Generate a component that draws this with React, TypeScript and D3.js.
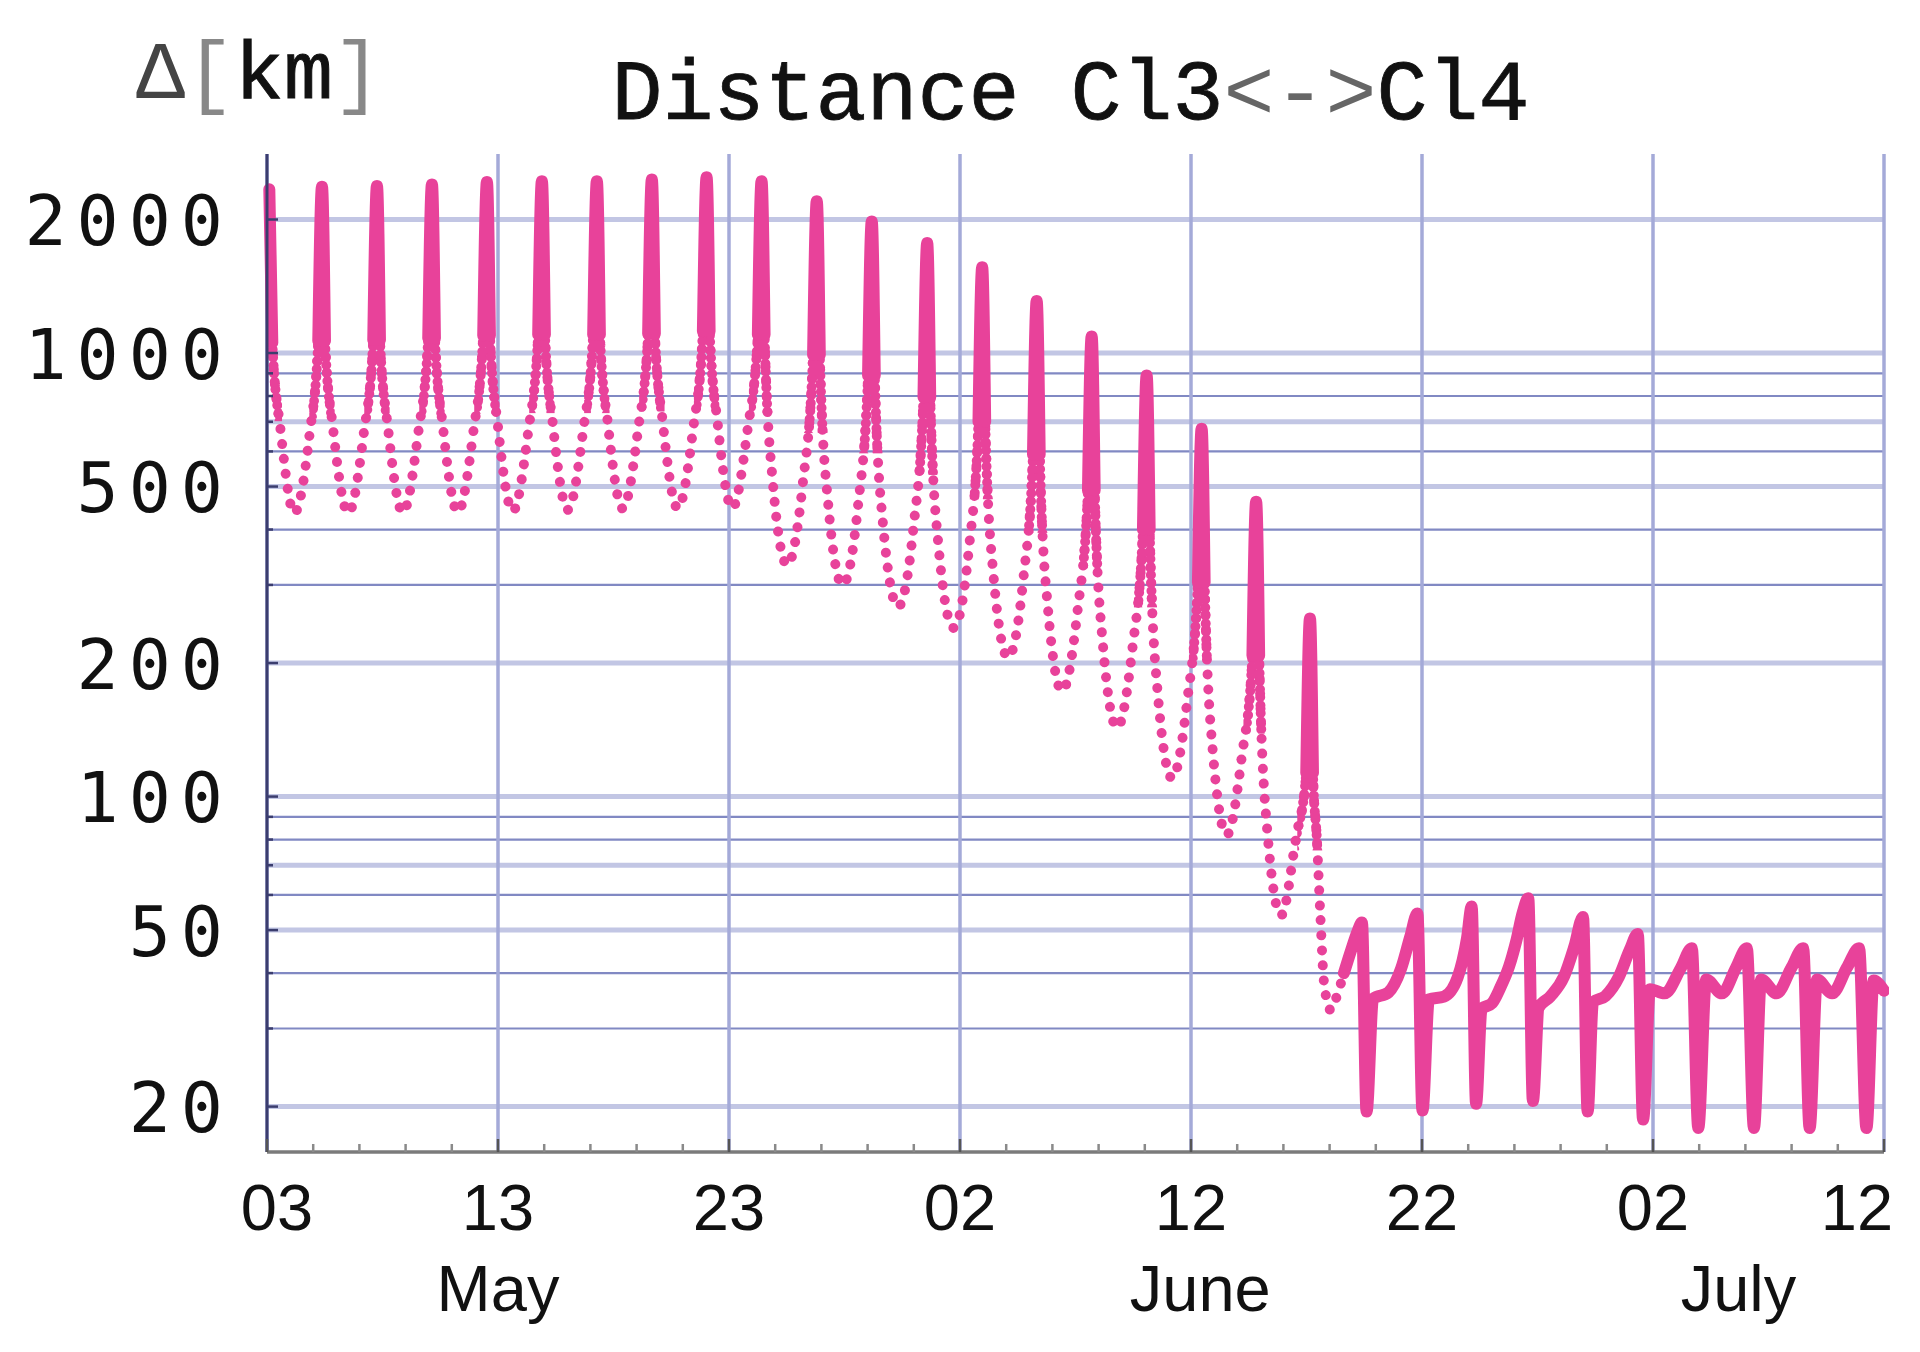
import React from "react";
import * as d3 from "d3";

const WIDTH = 1920;
const HEIGHT = 1352;
const PLOT = { left: 267, right: 1884, top: 154, bottom: 1152 };

const START = Date.UTC(2005, 4, 3); // 03 May
const DAY = 86400000;
const toDate = (d: number) => new Date(START + d * DAY);

// y axis (log, km)
const yDomain: [number, number] = [15.8, 2810];
const yTickValues = [20, 50, 100, 200, 500, 1000, 2000];
const gridHeavy = [20, 50, 70, 100, 200, 500, 700, 1000, 2000];
const gridLight = [30, 40, 60, 80, 90, 300, 400, 600, 800, 900];

// x axis, days after 03 May
const xMajorDays = [0, 10, 20, 30, 40, 50, 60, 70];
const monthNames = ["May", "June", "July"];
const monthLabelDays = [10, 40.4, 63.7];

// [day, km] — approach phase (sparse samples, drawn as dots)
const approach: [number, number][] = [
  [0.10, 2340], [0.23, 1055], [0.58, 676], [1.18, 436], [1.84, 654], [2.22, 1065],
  [2.38, 2370], [2.51, 1065], [2.86, 676], [3.52, 436], [4.18, 654], [4.60, 1070],
  [4.76, 2380], [4.89, 1070], [5.24, 677], [5.88, 437], [6.54, 656], [6.98, 1080],
  [7.14, 2400], [7.27, 1080], [7.62, 679], [8.26, 438], [8.92, 657], [9.36, 1095],
  [9.52, 2430], [9.65, 1095], [10.00, 682], [10.64, 440], [11.30, 660], [11.74, 1100],
  [11.90, 2440], [12.03, 1100], [12.38, 687], [13.02, 443], [13.68, 665], [14.12, 1100],
  [14.28, 2440], [14.41, 1100], [14.76, 691], [15.40, 446], [16.06, 669], [16.50, 1105],
  [16.66, 2460], [16.79, 1105], [17.14, 693], [17.78, 447], [18.44, 670], [18.87, 1120],
  [19.03, 2490], [19.16, 1120], [19.51, 693], [20.14, 447], [20.80, 670], [21.25, 1100],
  [21.41, 2440], [21.54, 1100], [21.89, 516], [22.52, 333], [23.18, 500], [23.64, 990],
  [23.80, 2200], [23.93, 990], [24.28, 465], [24.92, 300], [25.58, 450], [26.02, 890],
  [26.18, 1980], [26.31, 890], [26.66, 415], [27.32, 268], [27.98, 402], [28.42, 795],
  [28.58, 1770], [28.71, 795], [29.06, 372], [29.72, 240], [30.38, 360], [30.80, 700],
  [30.96, 1560], [31.09, 700], [31.44, 319], [32.08, 206], [32.74, 309], [33.16, 590],
  [33.32, 1310], [33.45, 590], [33.80, 268], [34.42, 173], [35.08, 260], [35.54, 490],
  [35.70, 1090], [35.83, 490], [36.18, 222], [36.80, 143], [37.46, 215], [37.92, 400],
  [38.08, 890], [38.21, 400], [38.56, 171], [39.18, 110], [39.84, 165], [40.30, 304],
  [40.46, 675], [40.59, 304], [40.94, 127], [41.55, 82], [42.20, 123], [42.66, 208],
  [42.82, 462], [42.95, 208], [43.30, 84], [43.90, 54], [44.55, 81], [44.99, 113],
  [45.15, 252], [45.28, 113], [45.45, 80], [45.60, 54], [45.76, 38], [46.05, 33],
  [46.35, 36], [46.62, 40],
];

// [day, km] — formation phase (dense samples, drawn solid)
const formation: [number, number][] = [
  [46.62, 40], [46.93, 45], [47.20, 49.5], [47.40, 52], [47.60, 19.5], [47.88, 35],
  [48.55, 36.2], [49.10, 41], [49.50, 48.5], [49.80, 54.5],
  [50.02, 19.6], [50.30, 34.9], [50.95, 35.4], [51.55, 39.2], [51.95, 48], [52.15, 56.5],
  [52.34, 20.3], [52.58, 33.2], [53.03, 34.2], [53.38, 37], [53.77, 41.4], [54.07, 47], [54.37, 55], [54.60, 59],
  [54.80, 20.6], [55.05, 33.4], [55.55, 35.4], [56.15, 39.3], [56.60, 46], [56.97, 53.5],
  [57.17, 19.5], [57.40, 34.4], [57.94, 35.5], [58.53, 39.3], [59.00, 45.2], [59.34, 49],
  [59.57, 18.7], [59.87, 36.8], [60.50, 36], [61.20, 41], [61.68, 45.5],
  [61.96, 17.9], [62.30, 38.7], [62.98, 36], [63.60, 41.2], [64.06, 45.5],
  [64.37, 17.9], [64.68, 38.7], [65.35, 36], [66.00, 41.2], [66.50, 45.5],
  [66.78, 17.9], [67.10, 38.7], [67.75, 36], [68.40, 41.2], [68.92, 45.5],
  [69.24, 17.9], [69.55, 38.5], [70.00, 36.5],
];

const PINK = "#e8429a";

export default function App() {
  const x = d3.scaleUtc().domain([toDate(0), toDate(70)]).range([PLOT.left, PLOT.right]);
  const y = d3.scaleLog().domain(yDomain).range([PLOT.bottom, PLOT.top]);
  const line = d3
    .line<[number, number]>()
    .x((d) => x(toDate(d[0])))
    .y((d) => y(d[1]))
    .curve(d3.curveMonotoneX);

  // near each peak the samples are packed tightly -> solid stroke
  const peakIdx = approach
    .map((_, i) => i)
    .filter(
      (i) =>
        i < approach.length - 1 &&
        approach[i][1] > approach[i + 1][1] &&
        (i === 0 || approach[i][1] > approach[i - 1][1])
    );
  const spikes = peakIdx.map((i) => approach.slice(Math.max(0, i - 1), i + 2));

  const fmt = d3.utcFormat("%d");
  const minorDays = d3.range(0, 71, 2);
  // first and last date labels are nudged inward, as in the original
  const labelShift = (i: number) => (i === 0 ? 10 : i === xMajorDays.length - 1 ? -27 : 0);

  return (
    <div>
      <style>{"body{margin:0}"}</style>
      <svg width={WIDTH} height={HEIGHT} style={{ display: "block", background: "#fff" }}>
        <defs>
          <clipPath id="plotClip">
            <rect x={PLOT.left - 5} y={0} width={PLOT.right - PLOT.left + 10} height={PLOT.bottom} />
          </clipPath>
          {/* band just below each solid spike where dots are still packed */}
          <mask id="denseBand" maskUnits="userSpaceOnUse" x={0} y={0} width={WIDTH} height={HEIGHT}>
            <rect x={0} y={0} width={WIDTH} height={HEIGHT} fill="black" />
            {peakIdx.map((i) => {
              const [t, p] = approach[i];
              const y0 = y(p * 0.45);
              const y1 = y(p * 0.3);
              return (
                <rect
                  key={"b" + i}
                  x={x(toDate(t - 0.55))}
                  y={y0}
                  width={x(toDate(t + 0.55)) - x(toDate(t - 0.55))}
                  height={y1 - y0}
                  fill="white"
                />
              );
            })}
          </mask>
        </defs>

        {/* horizontal grid */}
        {gridHeavy.map((v) => (
          <line key={"h" + v} x1={PLOT.left} x2={PLOT.right} y1={y(v)} y2={y(v)} stroke="#c2c6e4" strokeWidth={5} />
        ))}
        {gridLight.map((v) => (
          <line key={"l" + v} x1={PLOT.left} x2={PLOT.right} y1={y(v)} y2={y(v)} stroke="#8189c3" strokeWidth={2.2} />
        ))}

        {/* vertical grid */}
        {xMajorDays.map((d) => (
          <line key={"v" + d} x1={x(toDate(d))} x2={x(toDate(d))} y1={PLOT.top} y2={PLOT.bottom} stroke="#a4aad8" strokeWidth={3.5} />
        ))}

        {/* data */}
        <g clipPath="url(#plotClip)" fill="none" stroke={PINK} strokeLinecap="round" strokeLinejoin="round">
          <path d={line(approach) ?? ""} strokeWidth={10} strokeDasharray="0.01 15" />
          <path d={line(approach) ?? ""} strokeWidth={10} strokeDasharray="0.01 8" mask="url(#denseBand)" />
          {spikes.map((s, i) => (
            <path key={"s" + i} d={line(s) ?? ""} strokeWidth={12} />
          ))}
          <path d={line(formation) ?? ""} strokeWidth={12} />
        </g>

        {/* left axis */}
        <line x1={PLOT.left} x2={PLOT.left} y1={PLOT.top} y2={PLOT.bottom} stroke="#3b3d6e" strokeWidth={3} />
        {[...gridHeavy, ...gridLight].map((v) => (
          <line
            key={"t" + v}
            x1={PLOT.left}
            x2={PLOT.left + (yTickValues.includes(v) ? 11 : 6)}
            y1={y(v)}
            y2={y(v)}
            stroke="#3b3d6e"
            strokeWidth={2.5}
          />
        ))}
        {yTickValues.map((v) => (
          <text
            key={"yl" + v}
            x={233}
            y={y(v) + 25.5}
            textAnchor="end"
            fontFamily="'DejaVu Sans Mono', monospace"
            fontSize={70}
            letterSpacing={10}
            fill="#111"
          >
            {v}
          </text>
        ))}

        {/* bottom axis */}
        <line x1={PLOT.left} x2={PLOT.right} y1={PLOT.bottom} y2={PLOT.bottom} stroke="#7b7b7b" strokeWidth={3.5} />
        {minorDays.map((d) => (
          <line
            key={"m" + d}
            x1={x(toDate(d))}
            x2={x(toDate(d))}
            y1={PLOT.bottom}
            y2={PLOT.bottom - (xMajorDays.includes(d) ? 13 : 8)}
            stroke={xMajorDays.includes(d) ? "#555" : "#8a8a8a"}
            strokeWidth={2.5}
          />
        ))}
        {xMajorDays.map((d, i) => (
          <text
            key={"xl" + d}
            x={x(toDate(d)) + labelShift(i)}
            y={1230}
            textAnchor="middle"
            fontFamily="'Liberation Sans', Arial, sans-serif"
            fontSize={65}
            fill="#111"
          >
            {fmt(toDate(d))}
          </text>
        ))}
        {monthNames.map((m, i) => (
          <text
            key={m}
            x={x(toDate(monthLabelDays[i]))}
            y={1311}
            textAnchor="middle"
            fontFamily="'Liberation Sans', Arial, sans-serif"
            fontSize={65}
            fill="#111"
          >
            {m}
          </text>
        ))}

        {/* title and unit */}
        <text
          x={(PLOT.left + PLOT.right) / 2 - 5}
          y={119}
          textAnchor="middle"
          fontFamily="'Liberation Mono', 'Courier New', monospace"
          fontSize={85}
          fill="#111"
          stroke="#111"
          strokeWidth={0.8}
        >
          Distance Cl3
          <tspan fill="#666" stroke="none">{"<->"}</tspan>
          Cl4
        </text>
        <text x={136} y={98} fontFamily="'Liberation Mono', 'Courier New', monospace" fontSize={82}>
          <tspan fill="#444">Δ</tspan>
          <tspan fill="#888">[</tspan>
          <tspan fill="#111" stroke="#111" strokeWidth={1}>km</tspan>
          <tspan fill="#888">]</tspan>
        </text>
      </svg>
    </div>
  );
}
